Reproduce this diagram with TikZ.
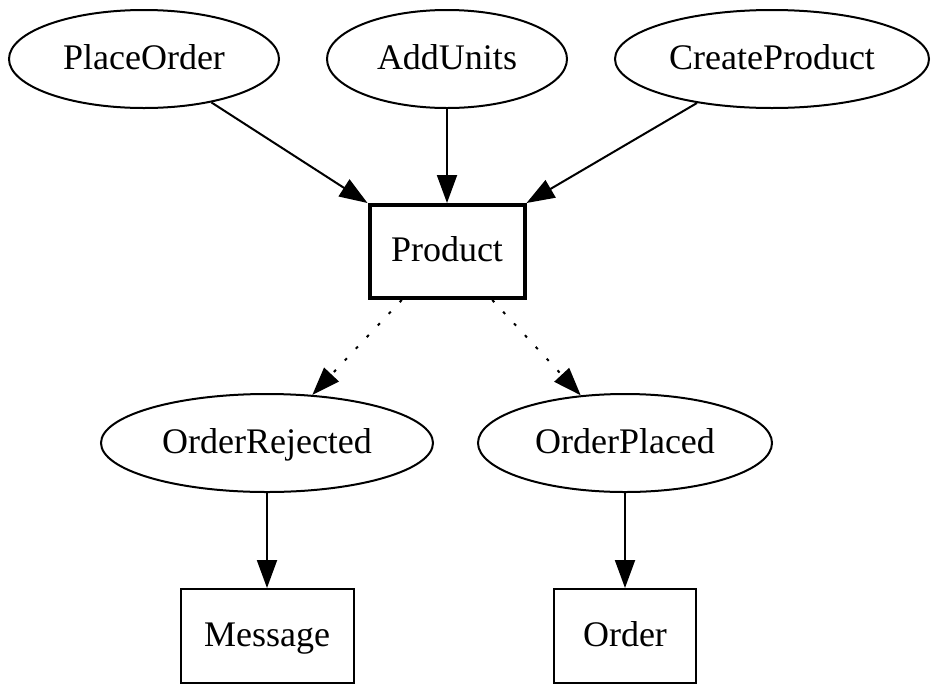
\documentclass[tikz,border=0pt]{standalone}
\usepackage{fontspec}
\setmainfont{Liberation Serif}
\usetikzlibrary{shapes.geometric,arrows.meta}
\begin{document}
\begin{tikzpicture}[x=1pt,y=-1pt,
  every node/.style={font=\fontsize{36}{43}\selectfont, inner sep=0pt,
    text height=24pt, text depth=4pt},
  evt/.style={ellipse, draw, line width=2pt, minimum height=98pt},
  ent/.style={rectangle, draw, line width=2pt, minimum height=94pt},
  edge/.style={line width=2pt, -{Triangle[length=28pt,width=20pt]}},
  weak/.style={edge, dash pattern=on 3pt off 13pt}]
\useasboundingbox (0,0) rectangle (931,686);

% commands
\node[evt, minimum width=270pt] (po) at (144,59) {PlaceOrder};
\node[evt, minimum width=240pt] (au) at (447,59) {AddUnits};
\node[evt, minimum width=314pt] (cp) at (772,59) {CreateProduct};

% aggregate
\node[ent, line width=4pt, minimum width=155pt, minimum height=93pt] (prod) at (447,251.5) {Product};

% events
\node[evt, minimum width=332pt] (or) at (267,443) {OrderRejected};
\node[evt, minimum width=294pt] (op) at (625,443) {OrderPlaced};

% read models
\node[ent, minimum width=173pt] (msg) at (267,636) {Message};
\node[ent, minimum width=142pt] (ord) at (625,636) {Order};

% connectors
\draw[edge] (po) -- (prod.north west);
\draw[edge] (au) -- (prod);
\draw[edge] (cp) -- (prod.north east);
\draw[weak] (prod.227) -- (or);
\draw[weak] (prod.313) -- (op);
\draw[edge] (or) -- (msg);
\draw[edge] (op) -- (ord);
\end{tikzpicture}
\end{document}
